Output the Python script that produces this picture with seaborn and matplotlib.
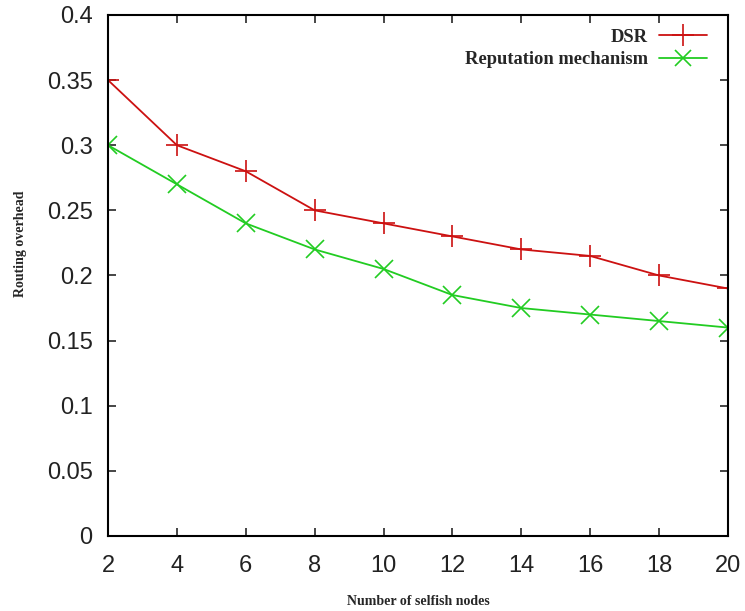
import matplotlib
matplotlib.use("Agg")
import matplotlib.pyplot as plt
import seaborn as sns
import pandas as pd
from matplotlib.lines import Line2D

nodes = [2, 4, 6, 8, 10, 12, 14, 16, 18, 20]
dsr = [0.35, 0.30, 0.28, 0.25, 0.24, 0.23, 0.22, 0.215, 0.20, 0.19]
reputation = [0.30, 0.27, 0.24, 0.22, 0.205, 0.185, 0.175, 0.17, 0.165, 0.16]
series_names = ["DSR", "Reputation mechanism"]
y_ticks = [0, 0.05, 0.1, 0.15, 0.2, 0.25, 0.3, 0.35, 0.4]
y_tick_labels = ["0", "0.05", "0.1", "0.15", "0.2", "0.25", "0.3", "0.35", "0.4"]

df = pd.DataFrame({
    "nodes": nodes * 2,
    "overhead": dsr + reputation,
    "series": [series_names[0]] * len(nodes) + [series_names[1]] * len(nodes),
})

sns.set_style("white")
fig = plt.figure(figsize=(7.45, 6.11), dpi=100)
ax = fig.add_axes([0.145, 0.1228, 0.832, 0.8527])

palette = {series_names[0]: "#cc1111", series_names[1]: "#22cc22"}
sns.lineplot(data=df, x="nodes", y="overhead", hue="series", style="series",
             markers={series_names[0]: "+", series_names[1]: "x"}, dashes=False,
             palette=palette, ax=ax, linewidth=1.3, markersize=16,
             legend=False)
for ln in ax.lines:
    ln.set_markeredgecolor(ln.get_color())
    ln.set_markeredgewidth(1.2)
    if ln.get_marker() == "x":
        ln.set_markersize(13)

ax.set_xlim(2, 20)
ax.set_ylim(0, 0.4)
ax.set_xticks(nodes)
ax.set_yticks(y_ticks)
ax.set_yticklabels(y_tick_labels)
for lab in ax.get_xticklabels() + ax.get_yticklabels():
    lab.set_fontfamily("Liberation Sans")
    lab.set_fontsize(17)
    lab.set_color("#222222")
ax.tick_params(direction="in", length=6, width=1.2, top=True, right=True,
               bottom=True, left=True)
ax.tick_params(axis="x", pad=14)
ax.tick_params(axis="y", pad=11)
for s in ax.spines.values():
    s.set_linewidth(1.5)
    s.set_color("black")

ax.set_xlabel("Number of selfish nodes", fontfamily="Liberation Serif",
              fontweight="bold", fontsize=10, labelpad=13)
ax.set_ylabel("Routing overhead", fontfamily="Liberation Serif",
              fontweight="bold", fontsize=10)
ax.yaxis.set_label_coords(-0.13, 0.56)

handles = [Line2D([], [], color=palette[series_names[0]], marker="+", markersize=16,
                  markeredgewidth=1.2, linewidth=1.3),
           Line2D([], [], color=palette[series_names[1]], marker="x", markersize=12,
                  markeredgewidth=1.2, linewidth=1.3)]
ax.legend(handles, series_names, loc="upper right", frameon=False,
          markerfirst=False, prop={"family": "Liberation Serif", "weight": "bold", "size": 13.3},
          handlelength=2.6, borderaxespad=0.0, labelspacing=0.3, handletextpad=0.6,
          bbox_to_anchor=(0.978, 0.988))

fig.savefig("out.png", dpi=100)
